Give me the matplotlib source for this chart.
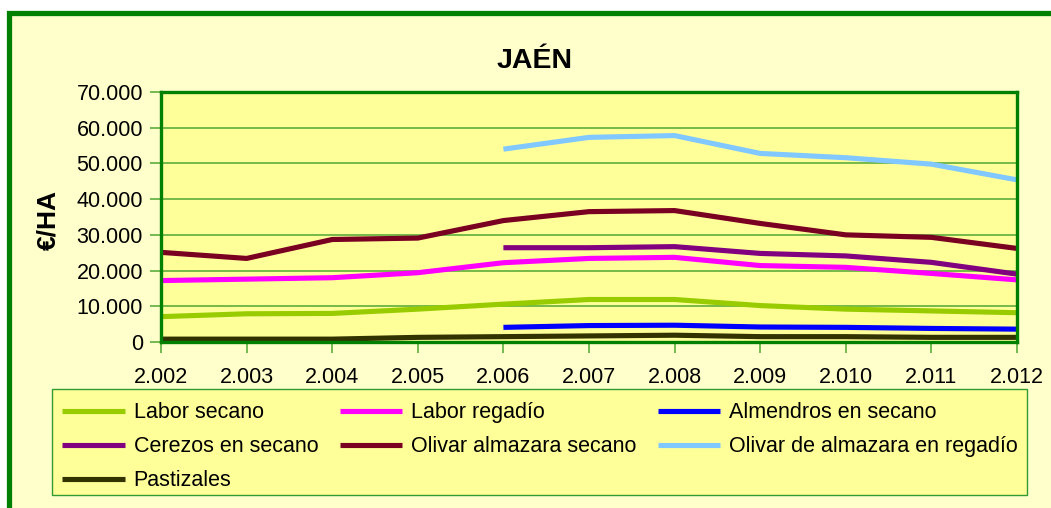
import matplotlib
matplotlib.use("Agg")
import matplotlib.pyplot as plt
import numpy as np
from matplotlib.patches import Rectangle
from matplotlib.ticker import FuncFormatter

plt.rcParams['font.family'] = ['Liberation Sans', 'DejaVu Sans']

years = [2002, 2003, 2004, 2005, 2006, 2007, 2008, 2009, 2010, 2011, 2012]
year_labels = ["2.002", "2.003", "2.004", "2.005", "2.006", "2.007", "2.008", "2.009", "2.010", "2.011", "2.012"]
nan = np.nan

labor_secano = [7100, 7900, 8000, 9200, 10600, 11900, 11900, 10200, 9200, 8700, 8200]
labor_regadio = [17200, 17600, 18000, 19400, 22200, 23400, 23700, 21400, 20900, 19200, 17400]
almendros_secano = [nan, nan, nan, nan, 4100, 4600, 4700, 4200, 4100, 3800, 3600]
cerezos_secano = [nan, nan, nan, nan, 26400, 26400, 26700, 24800, 24100, 22300, 19000]
olivar_secano = [25100, 23400, 28700, 29100, 34000, 36500, 36800, 33200, 30000, 29300, 26200]
olivar_regadio = [nan, nan, nan, nan, 54000, 57300, 57800, 52800, 51600, 49800, 45400]
pastizales = [800, 800, 800, 1300, 1500, 1700, 1900, 1500, 1500, 1300, 1300]

series = [
    ("Labor secano", labor_secano, "#99CC00"),
    ("Labor regadío", labor_regadio, "#FF00FF"),
    ("Almendros en secano", almendros_secano, "#0000FF"),
    ("Cerezos en secano", cerezos_secano, "#800080"),
    ("Olivar almazara secano", olivar_secano, "#7A0022"),
    ("Olivar de almazara en regadío", olivar_regadio, "#80C8FF"),
    ("Pastizales", pastizales, "#333300"),
]

W, H = 1051, 508
fig = plt.figure(figsize=(W / 100, H / 100), dpi=100)
fig.patch.set_facecolor("white")

def fx(px):
    return px / W

def fy(py):
    return 1 - py / H

# outer chart frame
outer = Rectangle((fx(9), fy(600)), fx(1100), fy(13) - fy(600),
                  transform=fig.transFigure, facecolor="#FFFFCC",
                  edgecolor="#008000", linewidth=3.8, zorder=-10)
fig.patches.append(outer)

ax = fig.add_axes([fx(161), fy(342), fx(1017) - fx(161), fy(92) - fy(342)])
ax.set_zorder(5)
ax.set_facecolor("#FFFF99")

handles = {}
for name, vals, col in series:
    ln, = ax.plot(years, vals, color=col, linewidth=3.7, solid_capstyle="butt",
                  solid_joinstyle="miter", label=name, zorder=3)
    handles[name] = ln

ax.set_xlim(2002, 2012)
ax.set_ylim(0, 70000)
ax.set_xticks(years)
ax.set_xticklabels(year_labels)
ax.set_yticks(np.arange(0, 70001, 10000))
ax.yaxis.set_major_formatter(FuncFormatter(lambda v, p: f"{int(v):,}".replace(",", ".")))
ax.grid(axis="y", color="#5DAE3C", linewidth=1.2, zorder=1)
ax.set_axisbelow(True)
for s in ax.spines.values():
    s.set_color("#008000")
    s.set_linewidth(2.4)
    s.set_zorder(4)
ax.tick_params(axis="both", colors="#5DAE3C", labelcolor="black", labelsize=15.5,
               width=1.2, length=8, direction="out")
ax.tick_params(axis="y", pad=5)
ax.tick_params(axis="x", pad=10)

fig.text(fx(535), fy(61), "JAÉN", fontsize=20.5, fontweight="bold", ha="center", va="center")
fig.text(fx(48), fy(220), "€/HA", fontsize=19, fontweight="bold", rotation=90,
         ha="center", va="center")

# legend box
legbox = Rectangle((fx(52), fy(495)), fx(1027) - fx(52), fy(389) - fy(495),
                   transform=fig.transFigure, facecolor="#FFFF99",
                   edgecolor="#339933", linewidth=1.0, zorder=1)
fig.patches.append(legbox)

order = ["Labor secano", "Cerezos en secano", "Pastizales",
         "Labor regadío", "Olivar almazara secano",
         "Almendros en secano", "Olivar de almazara en regadío"]
leg = fig.legend([handles[n] for n in order], order, ncol=3, loc="upper left",
                 bbox_to_anchor=(fx(56), fy(396)), frameon=False, fontsize=15.5,
                 handlelength=2.9, handletextpad=0.4, columnspacing=1.0,
                 labelspacing=0.6, borderpad=0.3, borderaxespad=0)
leg.set_zorder(6)

fig.savefig("out.png", dpi=100, facecolor=fig.get_facecolor())
